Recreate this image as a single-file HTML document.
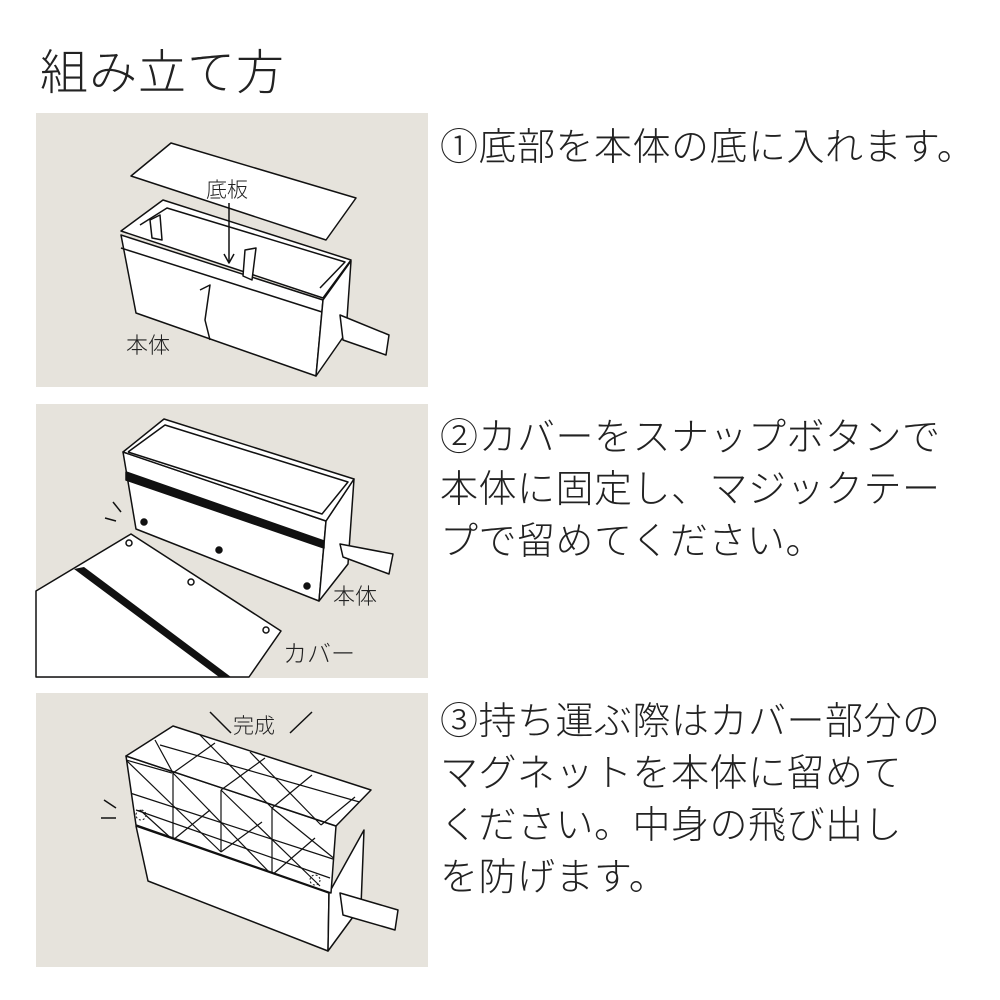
<!DOCTYPE html>
<html><head><meta charset="utf-8"><style>
body{margin:0;width:1000px;height:1000px;background:#fff;position:relative;overflow:hidden;font-family:"Liberation Sans","Noto Sans CJK JP",sans-serif;color:#222}
.t{position:absolute;white-space:nowrap;font-weight:300}
.p{position:absolute;left:440px;font-size:38px;line-height:52px;letter-spacing:0.5px;white-space:nowrap;color:#222;font-weight:300}
</style></head><body>
<div class="t" style="left:40px;top:44px;font-size:48px;line-height:60px;letter-spacing:1px">組み立て方</div>
<svg width="1000" height="1000" style="position:absolute;left:0;top:0" stroke="#111" stroke-width="1.5" stroke-linejoin="round" fill="#fff">
<defs><clipPath id="cv"><polygon points="126,756 173,726 371,790 336,826 331,893 136,825"/></clipPath></defs>
<rect x="36" y="113" width="392" height="274" fill="#e6e3dc" stroke="none"/>
<rect x="36" y="404" width="392" height="274" fill="#e6e3dc" stroke="none"/>
<rect x="36" y="693" width="392" height="274" fill="#e6e3dc" stroke="none"/>
<!-- panel1 -->
<polygon points="121,235 323,300 316,376 136,313"/>
<polygon points="323,300 351,261 346,333 316,376"/>
<polygon points="121,231 163,200 351,260 323,298"/>
<polyline points="140,225 167,208 345,262 320,288" fill="none"/>
<polygon points="150,220 160,215 162,240 152,238"/>
<polygon points="245,250 256,248 252,280 243,276"/>
<line x1="121" y1="248" x2="322" y2="312"/>
<path d="M200,290 L210,285 L205,320 L210,340" fill="none"/>
<polygon points="340,315 389,335 386,355 343,340"/>
<polygon points="131,176 171,143 356,198 326,240"/>
<line x1="229" y1="203" x2="229" y2="262"/>
<polyline points="224,254 229,263 234,254" fill="none"/>
<!-- panel2 -->
<polygon points="123,452 326,521 319,601 136,529"/>
<polygon points="326,521 354,479 348,564 319,601"/>
<polygon points="123,452 164,419 354,479 326,521"/>
<polyline points="128,452 165,425 348,482 322,514 128,452" fill="none"/>
<polygon points="126,472 324,541 324,548 126,480" fill="#111"/>
<polygon points="340,544 393,554 389,574 343,557"/>
<polygon points="36,591 131,534 281,631 249,677 36,677"/>
<polygon points="74,569 84,567 231,677 219,677" fill="#111" stroke="none"/>
<circle cx="144" cy="522" r="3" fill="#111"/><circle cx="219" cy="550" r="3" fill="#111"/><circle cx="307" cy="586" r="3" fill="#111"/>
<circle cx="129" cy="543" r="3"/><circle cx="191" cy="582" r="3"/><circle cx="266" cy="630" r="3"/>
<line x1="113" y1="502" x2="121" y2="512"/><line x1="105" y1="518" x2="116" y2="521"/>
<!-- panel3 -->
<polygon points="136,826 329,893 328,951 148,881"/>
<polygon points="329,893 364,830 361,906 328,951"/>
<polygon points="340,893 398,910 395,930 343,915"/>
<polygon points="126,756 336,826 331,893 136,825"/>
<polygon points="126,756 173,726 371,790 336,826"/>
<g fill="none" stroke-width="1.2" clip-path="url(#cv)">
<line x1="126" y1="760" x2="172" y2="773"/><line x1="130" y1="793" x2="336" y2="860"/>
<line x1="160" y1="745" x2="370" y2="805"/><line x1="136" y1="810" x2="330" y2="878"/>
<line x1="173" y1="773" x2="173" y2="840"/><line x1="221" y1="790" x2="221" y2="852"/>
<line x1="272" y1="808" x2="272" y2="875"/>
<line x1="126" y1="760" x2="221" y2="852"/><line x1="173" y1="773" x2="272" y2="875"/>
<line x1="221" y1="790" x2="320" y2="886"/><line x1="272" y1="808" x2="336" y2="860"/>
<line x1="155" y1="740" x2="173" y2="773"/><line x1="173" y1="773" x2="215" y2="743"/>
<line x1="221" y1="790" x2="265" y2="758"/><line x1="272" y1="808" x2="312" y2="775"/>
<line x1="321" y1="825" x2="355" y2="797"/><line x1="200" y1="735" x2="272" y2="808"/>
<line x1="250" y1="752" x2="321" y2="825"/><line x1="140" y1="810" x2="173" y2="840"/>
<line x1="173" y1="840" x2="210" y2="810"/><line x1="221" y1="852" x2="262" y2="822"/>
<line x1="272" y1="875" x2="315" y2="838"/>
</g>
<circle cx="141" cy="815" r="5" fill="none" stroke-dasharray="2 2" stroke-width="1"/>
<circle cx="315" cy="880" r="5" fill="none" stroke-dasharray="2 2" stroke-width="1"/>
<line x1="104" y1="800" x2="116" y2="808"/><line x1="101" y1="818" x2="116" y2="818"/>
<line x1="210" y1="712" x2="231" y2="733"/><line x1="312" y1="712" x2="290" y2="733"/>
<g stroke="none" fill="#222" font-family="Liberation Sans, Noto Sans CJK JP, sans-serif" font-weight="300">
<text x="206" y="197" font-size="21">底板</text>
<text x="126" y="353" font-size="22">本体</text>
<text x="333" y="604" font-size="22">本体</text>
<text x="283" y="662" font-size="24">カバー</text>
<text x="233" y="733" font-size="21">完成</text>
</g>
</svg>
<div class="p" style="top:122px">①底部を本体の底に入れます。</div>
<div class="p" style="top:412px">②カバーをスナップボタンで<br>本体に固定し、マジックテー<br>プで留めてください。</div>
<div class="p" style="top:696px">③持ち運ぶ際はカバー部分の<br>マグネットを本体に留めて<br>ください。中身の飛び出し<br>を防げます。</div>
</body></html>
